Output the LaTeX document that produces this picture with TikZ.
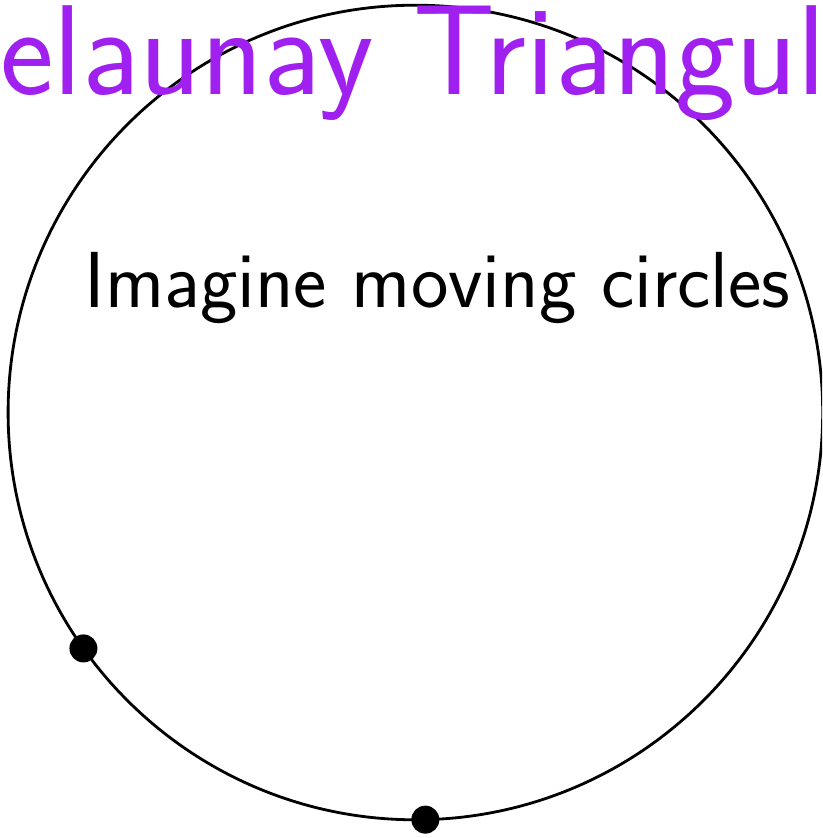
\documentclass[tikz,border=0pt]{standalone}
\usepackage{xcolor}
\definecolor{titlepurple}{RGB}{160,32,240}
\begin{document}
\begin{tikzpicture}[x=1pt,y=1pt,
  ring/.style={circle,draw=black,line width=2.8pt,inner sep=0pt,minimum size=814.6pt},
  dot/.style={circle,fill=black,inner sep=0pt,minimum size=28pt},
  titletext/.style={inner sep=0pt,text=titlepurple,font=\fontsize{128}{150}\selectfont\sffamily},
  bodytext/.style={inner sep=0pt,text=black,font=\fontsize{79.5}{94}\selectfont\sffamily}]
\useasboundingbox (0,0) rectangle (822,838);
\clip (0,0) rectangle (822,838);
\node[ring] (C) at (415.4,425.5) {};
\node[titletext,anchor=base west] (T) at (0,743) {elaunay Triangul};
\node[bodytext,anchor=base] (B) at (437.5,530) {Imagine moving circles};
\node[dot] (d1) at ([shift={(215.4:407.3)}]C.center) {};
\node[dot] (d2) at ([shift={(271.4:407.3)}]C.center) {};
\end{tikzpicture}
\end{document}
